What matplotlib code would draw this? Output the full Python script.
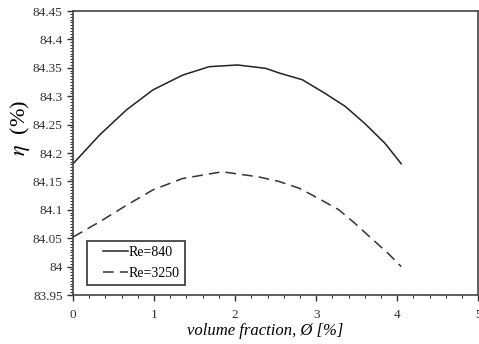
import matplotlib.pyplot as plt
from matplotlib.ticker import MultipleLocator
from matplotlib.lines import Line2D
from matplotlib.legend_handler import HandlerLine2D

# Re=840 (solid)
x_840 = [0.0, 0.33, 0.66, 0.985, 1.35, 1.68, 2.03, 2.38, 2.54, 2.83, 3.11, 3.36, 3.60, 3.85, 4.05]
eta_840 = [84.181, 84.232, 84.276, 84.311, 84.337, 84.352, 84.355, 84.349, 84.341, 84.329, 84.305,
           84.282, 84.252, 84.217, 84.181]

# Re=3250 (dashed)
x_3250 = [0.0, 0.33, 0.66, 0.985, 1.35, 1.84, 2.29, 2.54, 2.79, 3.03, 3.28, 3.48, 3.68, 3.89, 4.05]
eta_3250 = [84.052, 84.079, 84.108, 84.135, 84.155, 84.167, 84.158, 84.150, 84.138, 84.120, 84.100,
            84.076, 84.050, 84.023, 84.000]

plt.rcParams['font.family'] = ['Liberation Serif', 'DejaVu Serif']
plt.rcParams['mathtext.fontset'] = 'stix'

fig = plt.figure(figsize=(4.79, 3.44), dpi=100)
ax = fig.add_axes([0.1524, 0.1424, 0.846, 0.8256])

ax.plot(x_840, eta_840, color='#222222', lw=1.1, label='Re=840')
ax.plot(x_3250, eta_3250, color='#333333', lw=1.1, dashes=(7, 4), label='Re=3250')

ax.set_xlim(0, 5)
ax.set_ylim(83.95, 84.45)
ax.xaxis.set_major_locator(MultipleLocator(1))
ax.xaxis.set_minor_locator(MultipleLocator(0.2))
ax.yaxis.set_major_locator(MultipleLocator(0.05))
ax.yaxis.set_minor_locator(MultipleLocator(0.005))
ax.set_yticklabels(['%g' % v for v in ax.get_yticks()])

ax.tick_params(which='major', direction='out', length=4, width=1, labelsize=9.5, colors='#333333')
ax.tick_params(which='minor', direction='out', length=2.5, width=0.8, colors='#333333')
ax.tick_params(axis='x', pad=6)

for s in ax.spines.values():
    s.set_color('#444444')
    s.set_linewidth(1.2)

ax.set_xlabel('volume fraction, Ø [%]', fontsize=12, style='italic', labelpad=4)
ax.xaxis.set_label_coords(0.475, -0.1)
ax.set_ylabel(r'$\eta$  (%)', fontsize=16, labelpad=6)
ax.yaxis.set_label_coords(-0.1, 0.59)

leg = ax.legend(loc='lower left', bbox_to_anchor=(0.025, 0.02), fontsize=10,
                fancybox=False, framealpha=1, edgecolor='#333333',
                handlelength=2.6, borderpad=0.35, labelspacing=0.6, handletextpad=0.05,
                borderaxespad=0.3, handler_map={Line2D: HandlerLine2D(xpad=0.8)})
leg.get_frame().set_linewidth(1.2)

fig.savefig('out.png', dpi=100)
